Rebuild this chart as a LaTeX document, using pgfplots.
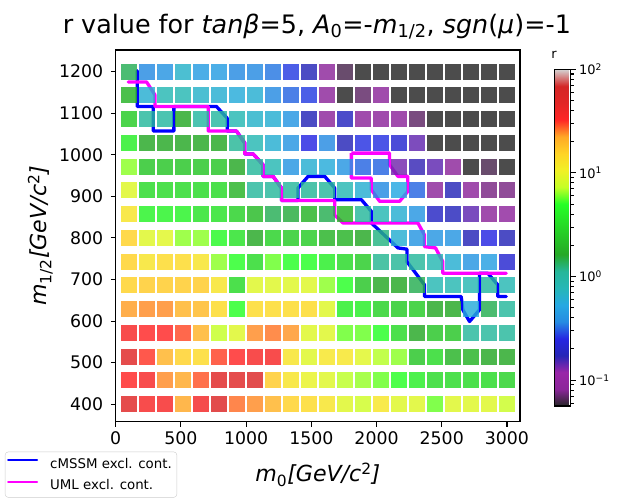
\documentclass[border=0pt]{standalone}
\usepackage{fontspec}
\setmainfont{DejaVu Sans}
\usepackage{pgfplots}
\pgfplotsset{compat=1.18}
\usepackage{pgfplotstable}
\definecolor{cblue}{rgb}{0,0,1}
\definecolor{cmag}{rgb}{1,0,1}

% r values on the grid: one row per m0 value, one column per m1/2 value
\pgfplotstableread{
x      c400 c457 c514 c571 c629 c686 c743 c800 c857 c914 c971 c1029 c1086 c1143 c1200
100    51   32.5 51   36.4 23.1 15.7 15.7 15.7 12.6 8.9  6.34 4.0   2.56  1.85  1.4
238.1  36.4 36.4 31.2 32.5 24.3 16.7 12.6 8.9  4.3  3.08 2.37 1.63  1.11  0.617 0.365
376.2  36.4 24.3 20.6 32.5 24.3 16.7 14.3 9.12 4.3  3.08 2.37 1.63  1.04  0.82  0.408
514.3  22.4 22.4 15.7 29.5 20.6 16.7 14.3 6.34 4.3  3.08 2.37 1.63  1.63  0.82  0.664
652.4  37.8 28.6 14.3 20.6 19.3 16.7 12.6 6.34 3.45 3.08 2.37 1.63  1.04  0.664 0.457
790.5  55   51   30.2 7.29 14.3 12.6 6.34 4.65 3.45 3.08 2.37 1.63  1.04  0.617 0.457
928.6  26.6 51   32.5 8.9  5.01 3.08 5.01 3.45 2.75 1.85 1.63 1.13  0.82  0.572 0.365
1066.7 24.3 55   36.4 24.3 14.3 8.9  3.08 1.63 2.04 1.11 1.11 0.82  0.664 0.617 0.365
1204.8 20.6 16.7 36.4 25.9 14.3 8.9  5.82 2.75 1.4  1.11 0.82 0.617 0.617 0.365 0.339
1342.9 15.7 12.6 12.6 23.6 14.3 8.9  5.01 2.56 1.51 1.11 0.414 0.414 0.414 0.317 0.271
1481.0 14.3 9.83 8.9  8.9  14.3 8.9  5.01 2.56 1.85 1.13 0.617 0.251 0.173 0.273 0.173
1619.0 12.6 8.9  12.3 8.9  8.9  6.34 4.0  1.85 1.42 1.11 0.572 0.365 0.082 0.082 0.082
1757.1 8.9  7.1  12.3 5.82 4.0  5.01 3.08 1.85 1.85 0.82 0.414 0.173 0.186 0.056 0.064
1895.2 7.85 6.5  9.12 5.82 4.0  2.37 2.56 1.63 1.11 0.617 0.317 0.261 0.082 0.069 0.056
2033.3 12.3 5.82 7.0  5.01 2.75 1.63 1.15 1.21 0.82 0.365 0.317 0.261 0.082 0.082 0.056
2171.4 8.9  5.01 6.34 3.08 2.56 1.63 1.13 0.617 0.617 0.531 0.135 0.215 0.082 0.056 0.056
2309.5 8.9  4.0  2.37 1.63 2.56 1.42 1.11 0.414 0.414 0.317 0.164 0.143 0.069 0.056 0.056
2447.6 5.82 3.08 3.08 2.37 1.63 0.82 0.82 0.414 0.193 0.082 0.144 0.056 0.056 0.056 0.056
2585.7 8.9  3.08 1.85 2.37 1.63 0.83 0.617 0.414 0.179 0.173 0.082 0.056 0.056 0.056 0.056
2723.8 8.9  3.08 1.85 1.11 0.572 0.82 0.414 0.173 0.144 0.082 0.056 0.056 0.056 0.056 0.056
2861.9 8.9  3.08 1.63 1.11 1.42 1.04 0.47 0.251 0.082 0.076 0.064 0.056 0.056 0.056 0.056
3000   7.57 2.75 1.63 1.11 1.11 0.82 0.215 0.173 0.088 0.076 0.056 0.056 0.056 0.056 0.056
}\grid

\pgfplotsset{
  colormap={nipy}{rgb=(0.15,0.15,0.15) rgb=(0.5467,0.15,0.6033) rgb=(0.6033,0.15,0.66)
    rgb=(0.15,0.15,0.7167) rgb=(0.15,0.15,0.8867) rgb=(0.15,0.5467,0.8867)
    rgb=(0.15,0.66,0.8867) rgb=(0.15,0.7167,0.7167) rgb=(0.15,0.7167,0.6033)
    rgb=(0.15,0.66,0.15) rgb=(0.15,0.7733,0.15) rgb=(0.15,0.8867,0.15)
    rgb=(0.15,1,0.15) rgb=(0.7733,1,0.15) rgb=(0.9433,0.9433,0.15)
    rgb=(1,0.83,0.15) rgb=(1,0.66,0.15) rgb=(1,0.15,0.15)
    rgb=(0.8867,0.15,0.15) rgb=(0.83,0.15,0.15) rgb=(0.83,0.83,0.83)},
  sq/.style={scatter, only marks, mark=square*, mark size=8bp, forget plot,
    scatter/use mapped color={draw opacity=0, fill=mapped color, fill opacity=0.8235}},
}

\begin{document}
\begin{tikzpicture}
\begin{axis}[
  scale only axis, width=404.3bp, height=371.7bp,
  xmin=0, xmax=3100, ymin=358, ymax=1252,
  xtick={0,500,...,3000}, ytick={400,500,...,1200},
  xtick pos=left, ytick pos=left,
  tick align=outside, major tick length=4.9bp,
  axis line style={line width=1.1bp}, tick style={line width=1.1bp, black},
  scaled ticks=false,
  /pgf/number format/1000 sep={},
  /pgf/number format/assume math mode=true,
  tick label style={font=\fontsize{17.4}{17.4}\selectfont},
  xticklabel style={yshift=-2bp},
  yticklabel style={xshift=-4bp},
  title={r value for \textit{tanβ}=5, \textit{A}\textsubscript{0}=-\textit{m}\textsubscript{1/2}, \textit{sgn}(\textit{μ})=-1},
  title style={font=\fontsize{25.5}{25.5}\selectfont, at={(axis description cs:0.4975,1.0288)}, anchor=base},
  xlabel={\textit{m}\textsubscript{0}\textit{[GeV/c}\textsuperscript{2}\textit{]}},
  xlabel style={font=\fontsize{22.2}{22.2}\selectfont, at={(axis description cs:0.5,-0.1614)}, anchor=base},
  ylabel={\textit{m}\textsubscript{1/2}\textit{[GeV/c}\textsuperscript{2}\textit{]}},
  ylabel style={font=\fontsize{22.2}{22.2}\selectfont, at={(axis description cs:-0.170,0.5)}, anchor=base},
  colormap name=nipy, point meta min=-1.25, point meta max=2,
  colorbar,
  colorbar style={
    at={(parent axis.north east)}, anchor=north west, xshift=25.7bp, yshift=-19.3bp,
    scale only axis, width=16.6bp, height=336.7bp,
    ytick={-1,0,1,2},
    yticklabels={10\textsuperscript{−1},10\textsuperscript{0},10\textsuperscript{1},10\textsuperscript{2}},
    minor ytick={-1.2218,-1.1549,-1.0969,-1.0458,-0.6990,-0.5229,-0.3979,-0.3010,-0.2218,-0.1549,-0.0969,-0.0458,0.3010,0.4771,0.6021,0.6990,0.7782,0.8451,0.9031,0.9542,1.3010,1.4771,1.6021,1.6990,1.7782,1.8451,1.9031,1.9542},
    ytick pos=right, yticklabel pos=right, tick align=outside,
    major tick length=4.9bp, minor tick length=2.8bp,
    axis line style={line width=1.1bp}, tick style={line width=1.1bp, black},
    yticklabel style={font=\fontsize{13}{13}\selectfont},
  },
  legend style={at={(axis description cs:-0.2738,-0.0807)}, anchor=north west,
    draw=black!20, rounded corners=3bp, fill=white,
    font=\fontsize{13.4}{16}\selectfont, inner xsep=2bp, inner ysep=3bp,
    row sep=4.2bp, column sep=9bp, nodes={inner sep=3bp}},
  legend cell align=left,
  legend image code/.code={\draw[#1, line width=2bp] (0bp,4bp) -- (29bp,4bp);},
]
\coordinate (SW) at (rel axis cs:0,0);
\addplot[sq, point meta={log10(\thisrow{c400})}] table[x=x, y expr=400] {\grid};
\addplot[sq, point meta={log10(\thisrow{c457})}] table[x=x, y expr=457.1] {\grid};
\addplot[sq, point meta={log10(\thisrow{c514})}] table[x=x, y expr=514.3] {\grid};
\addplot[sq, point meta={log10(\thisrow{c571})}] table[x=x, y expr=571.4] {\grid};
\addplot[sq, point meta={log10(\thisrow{c629})}] table[x=x, y expr=628.6] {\grid};
\addplot[sq, point meta={log10(\thisrow{c686})}] table[x=x, y expr=685.7] {\grid};
\addplot[sq, point meta={log10(\thisrow{c743})}] table[x=x, y expr=742.9] {\grid};
\addplot[sq, point meta={log10(\thisrow{c800})}] table[x=x, y expr=800] {\grid};
\addplot[sq, point meta={log10(\thisrow{c857})}] table[x=x, y expr=857.1] {\grid};
\addplot[sq, point meta={log10(\thisrow{c914})}] table[x=x, y expr=914.3] {\grid};
\addplot[sq, point meta={log10(\thisrow{c971})}] table[x=x, y expr=971.4] {\grid};
\addplot[sq, point meta={log10(\thisrow{c1029})}] table[x=x, y expr=1028.6] {\grid};
\addplot[sq, point meta={log10(\thisrow{c1086})}] table[x=x, y expr=1085.7] {\grid};
\addplot[sq, point meta={log10(\thisrow{c1143})}] table[x=x, y expr=1142.9] {\grid};
\addplot[sq, point meta={log10(\thisrow{c1200})}] table[x=x, y expr=1200] {\grid};

\addplot[cblue, line width=3.3bp, line join=round, line cap=round] coordinates {
  (165,1202) (165,1116) (288,1116) (288,1057) (446,1057) (446,1116) (773,1116)
  (855,1088) (855,1057) (926,1057) (990,1028) (990,1002) (1054,1002) (1130,976)
  (1130,948) (1207,948) (1271,920) (1271,890) (1398,890) (1398,920) (1475,948)
  (1603,948) (1679,920) (1679,892) (1884,892) (1960,864) (1960,836) (2164,776)
  (2233,773) (2233,743) (2368,687) (2368,659) (2649,659) (2662,627) (2713,599)
  (2789,627) (2789,715) (2853,715) (2930,687) (2930,659) (2994,659)};
\addlegendentry{cMSSM excl. cont.}
\addplot[cmag, line width=3.3bp, line join=round, line cap=round] coordinates {
  (97,1175) (237,1175) (301,1144) (301,1116) (709,1116) (709,1057) (926,1057)
  (990,1028) (990,1002) (1054,1002) (1130,976) (1130,948) (1207,948) (1271,920)
  (1271,890) (1679,890) (1679,855) (1743,836) (2317,836) (2368,807) (2368,779)
  (2452,776) (2508,743) (2508,715) (2994,715)};
\addlegendentry{UML excl. cont.}
\addplot[cmag, line width=3.3bp, line join=round, forget plot] coordinates {
  (1807,1004) (2100,1004) (2100,976) (2164,948) (2240,948) (2240,912) (2177,888)
  (2024,888) (1960,916) (1960,944) (1807,944) (1807,1004)};
\end{axis}
\node[font=\fontsize{13}{13}\selectfont, anchor=base, xshift=438.3bp, yshift=362.7bp] at (SW) {r};
\pgfresetboundingbox
\path[use as bounding box] (SW) ++(-115.7bp,-78.3bp) rectangle ++(640bp,500bp);
\end{tikzpicture}
\end{document}
